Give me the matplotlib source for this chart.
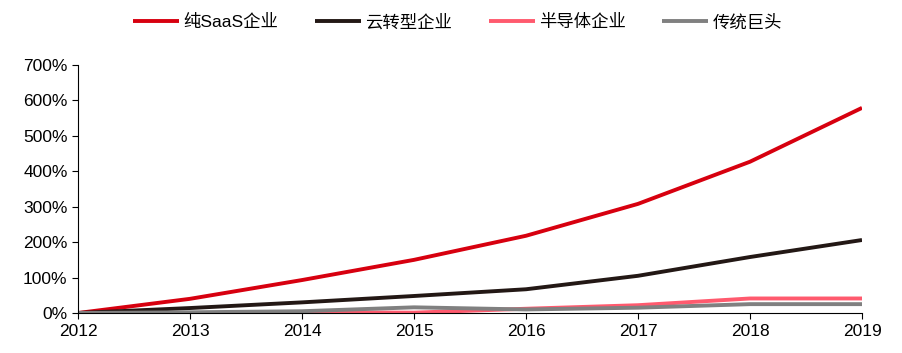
import matplotlib.pyplot as plt
from matplotlib.ticker import FuncFormatter

plt.rcParams['font.family'] = ['Liberation Sans', 'Noto Sans CJK SC', 'DejaVu Sans']

# data (cumulative growth, %)
years = [2012, 2013, 2014, 2015, 2016, 2017, 2018, 2019]
saas = [0, 40, 93, 150, 218, 308, 427, 579]
cloud = [0, 14, 30, 48, 67, 105, 158, 206]
semi = [0, -2, 2, 1, 12, 22, 41, 41]
legacy = [0, 2, 5, 16, 10, 15, 25, 25]
names = ['纯SaaS企业', '云转型企业', '半导体企业', '传统巨头']
colors = ['#D7000F', '#231815', '#FF5A6E', '#808080']

fig = plt.figure(figsize=(9.03, 3.53), dpi=100)
ax = fig.add_axes([78 / 903, 40 / 353, 784 / 903, 248 / 353])

for vals, name, c in zip([saas, cloud, semi, legacy], names, colors):
    ax.plot(years, vals, color=c, lw=2.8, label=name, solid_capstyle='butt')

ax.set_xlim(2012, 2019)
ax.set_ylim(0, 700)
ax.set_xticks(years)
ax.set_yticks(range(0, 701, 100))
ax.yaxis.set_major_formatter(FuncFormatter(lambda v, p: '{:.0f}%'.format(v)))
ax.spines['top'].set_visible(False)
ax.spines['right'].set_visible(False)
for s in ['left', 'bottom']:
    ax.spines[s].set_color('#000000')
    ax.spines[s].set_linewidth(0.8)
ax.tick_params(axis='both', labelsize=12.5, length=4, width=0.8, direction='out')
ax.tick_params(axis='x', pad=4)

fig.legend(loc='upper center', bbox_to_anchor=(0.507, 1.005), ncol=4, frameon=False,
           fontsize=12.5, handlelength=2.65, handletextpad=0.25, columnspacing=2.1)

fig.savefig('out.png', dpi=100)
